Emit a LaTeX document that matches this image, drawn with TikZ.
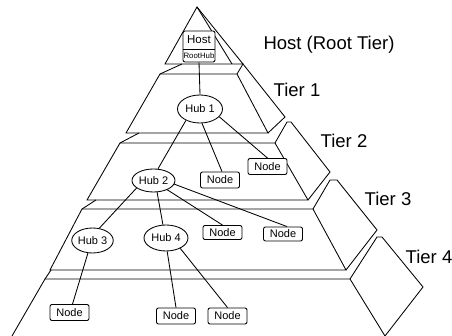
\documentclass[tikz,border=0pt]{standalone}
\usepackage{fontspec}
\setmainfont{Liberation Sans}
\usetikzlibrary{shapes.geometric}
\begin{document}
\begin{tikzpicture}[x=1pt,y=-1pt,
  edge/.style={draw=black,line width=0.85pt,line join=miter},
  conn/.style={draw=black,line width=0.85pt},
  hub/.style={ellipse,draw=black,fill=white,line width=0.85pt,inner sep=0pt,font=\fontsize{11}{12}\selectfont},
  nodebox/.style={rectangle,draw=black,fill=white,line width=0.85pt,rounded corners=2pt,minimum width=39pt,minimum height=16pt,inner sep=0pt,font=\fontsize{11}{12}\selectfont},
  tierlbl/.style={font=\fontsize{18.5}{21}\selectfont,inner sep=0pt}]
\path[use as bounding box,fill=white] (0,0) rectangle (452,336);

% Host (top) tier
\draw[edge] (197,7) -- (165,64) -- (243,64) -- cycle;
\draw[edge] (197,7) -- (232,64);
% Tier 1
\draw[edge] (160,74) -- (237,74) -- (268,133) -- (126,133) -- cycle;
\draw[edge] (160,74) -- (182,64);
\draw[edge] (237,74) -- (243,64) -- (285,117) -- (268,133);
% Tier 2
\draw[edge] (120,143) -- (275,143) -- (308,200) -- (87,200) -- cycle;
\draw[edge] (120,143) -- (139,133);
\draw[edge] (275,143) -- (287,122) -- (291,122) -- (330,172) -- (308,200);
% Tier 3
\draw[edge] (82,209) -- (313,209) -- (346,270) -- (50,270) -- cycle;
\draw[edge] (82,209) -- (96,200);
\draw[edge] (313,209) -- (330,180) -- (337,180) -- (377,230) -- (346,270);
% Tier 4
\draw[edge] (12,336) -- (45,279) -- (350,279) -- (385,336);
\draw[edge] (45,279) -- (51,270);
\draw[edge] (350,279) -- (377,237) -- (382,237) -- (423,287) -- (385,336);

% Host box
\node[draw=black,fill=white,line width=0.85pt,rounded corners=2pt,minimum width=32pt,minimum height=31pt,inner sep=0pt] (host) at (199,46.5) {};
\draw[edge] (183,49) -- (215,49);
\node[inner sep=0pt,font=\fontsize{11.5}{12}\selectfont] (hosttxt) at (199,40) {Host};
\node[inner sep=0pt,font=\fontsize{7.8}{8}\selectfont] (roothub) at (199,55.5) {RootHub};

% Hubs
\node[hub,minimum width=45pt,minimum height=28pt] (hub1) at (200,109) {Hub 1};
\node[hub,minimum width=43pt,minimum height=23pt] (hub2) at (153.5,180.5) {Hub 2};
\node[hub,minimum width=41pt,minimum height=25pt] (hub3) at (92.5,240.5) {Hub 3};
\node[hub,minimum width=44pt,minimum height=26pt] (hub4) at (166,238) {Hub 4};

% Nodes
\node[nodebox] (n1) at (220,180) {Node};
\node[nodebox] (n2) at (267.5,166.5) {Node};
\node[nodebox,minimum height=14pt] (n3) at (222.5,232.5) {Node};
\node[nodebox,minimum height=14pt] (n4) at (283,234) {Node};
\node[nodebox] (n5) at (69.5,312.5) {Node};
\node[nodebox] (n6) at (176,316) {Node};
\node[nodebox] (n7) at (227.5,316) {Node};

% Connectors
\draw[conn] (host.south) -- (hub1.north);
\draw[conn] (hub1.219) -- (hub2.69);
\draw[conn] (hub1.278) -- ([xshift=2pt]n1.north);
\draw[conn] (hub1.338) -- (n2.north);
\draw[conn] (hub2.204) -- (hub3.61);
\draw[conn] (hub2.287) -- (hub4.103);
\draw[conn] (hub2.326) -- (n3.north);
\draw[conn] (hub2.350) -- ([xshift=4pt]n4.north);
\draw[conn] (hub3.250) -- ([xshift=3pt]n5.north);
\draw[conn] (hub4.275) -- (n6.north);
\draw[conn] (hub4.324) -- (n7.north);

% Tier labels
\node[tierlbl] (lhost) at (329,45) {Host (Root Tier)};
\node[tierlbl] (l1) at (297,90) {Tier 1};
\node[tierlbl] (l2) at (344,141) {Tier 2};
\node[tierlbl] (l3) at (388,199) {Tier 3};
\node[tierlbl] (l4) at (429,257) {Tier 4};
\end{tikzpicture}
\end{document}
